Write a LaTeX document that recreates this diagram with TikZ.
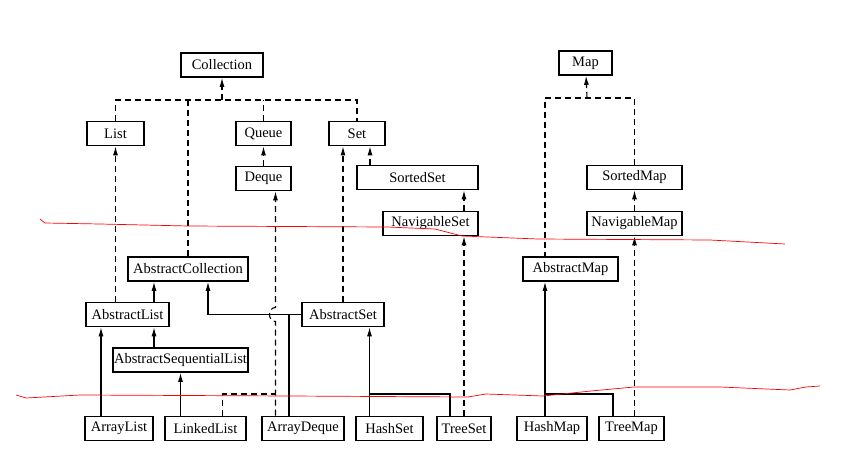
\documentclass[tikz,border=0pt]{standalone}
\usepackage{fontspec}
\setmainfont{Liberation Serif}
\usetikzlibrary{arrows.meta,calc}

\tikzset{
  cls/.style={draw, line width=1.6pt, minimum height=24, inner sep=0pt, fill=white,
    font=\fontsize{14.5}{16}\selectfont},
  dep/.style={line width=1.1pt, dash pattern=on 6pt off 4pt},
  ext/.style={line width=1.1pt},
  tip/.style={-{Latex[length=9pt,width=5pt]}}
}

\begin{document}
\begin{tikzpicture}[x=1pt, y=-1pt]
            \useasboundingbox[fill=white] (0,0) rectangle (844,458);

            % Interfaces
            \node[cls, minimum width=82] (Collection) at (222,65) {Collection};
            \node[cls, minimum width=57] (List) at (115.5,133.5) {List};
            \node[cls, minimum width=55] (Queue) at (263.5,133.5) {Queue};
            \node[cls, minimum width=56] (Set) at (357,133.5) {Set};
            \node[cls, minimum width=55] (Deque) at (263.5,178.5) {Deque};
            \node[cls, minimum width=121] (SortedSet) at (417.5,177.5) {SortedSet};
            \node[cls, minimum width=95] (NavigableSet) at (430.5,223.5) {NavigableSet};
            \node[cls, minimum width=53] (Map) at (585.5,63) {Map};
            \node[cls, minimum width=95] (SortedMap) at (634.5,177.5) {SortedMap};
            \node[cls, minimum width=95] (NavigableMap) at (634.5,223.5) {NavigableMap};

            % Abstract classes
            \node[cls, minimum width=120] (AbstractCollection) at (188,269) {AbstractCollection};
            \node[cls, minimum width=95] (AbstractMap) at (570.5,269) {AbstractMap};
            \node[cls, minimum width=83] (AbstractList) at (127.5,314.5) {AbstractList};
            \node[cls, minimum width=82] (AbstractSet) at (343,314.5) {AbstractSet};
            \node[cls, minimum width=135] (AbstractSequentialList) at (180.5,360) {AbstractSequentialList};

            % Concrete classes
            \node[cls, minimum width=68] (ArrayList) at (119,428.5) {ArrayList};
            \node[cls, minimum width=81] (LinkedList) at (205.5,428.5) {LinkedList};
            \node[cls, minimum width=82] (ArrayDeque) at (303,428.5) {ArrayDeque};
            \node[cls, minimum width=67] (HashSet) at (389.5,428.5) {HashSet};
            \node[cls, minimum width=54] (TreeSet) at (464,428.5) {TreeSet};
            \node[cls, minimum width=70] (HashMap) at (552,428.5) {HashMap};
            \node[cls, minimum width=65] (TreeMap) at (631.5,428.5) {TreeMap};

            % Helper points
            \coordinate (cbus) at (222,100);
            \coordinate (mbus) at (587,98);
            \coordinate (lowbus) at (0,394);
            \coordinate (setin) at ([xshift=13pt]Set.south);
            \coordinate (sortin) at ([xshift=33.5pt]NavigableSet.north);
            \coordinate (amin) at ([xshift=-25.5pt]AbstractMap.north);
            \coordinate (acin) at ([xshift=-34pt]AbstractCollection.south);
            \coordinate (acset) at ([xshift=20pt]AbstractCollection.south);
            \coordinate (dqin) at ([xshift=12pt]Deque.south);
            \coordinate (hop) at (dqin |- AbstractSet.west);
            \coordinate (llup) at ([xshift=17pt]LinkedList.north);
            \coordinate (alup) at ([xshift=-18pt]ArrayList.north);
            \coordinate (adup) at ([xshift=-14pt]ArrayDeque.north);
            \coordinate (hsup) at ([xshift=-20pt]HashSet.north);
            \coordinate (tsup) at ([xshift=-14pt]TreeSet.north);
            \coordinate (tmup) at ([xshift=-18.5pt]TreeMap.north);

            % Collection side
            \draw[dep, tip] (cbus) -- (Collection);
            \draw[dep] (List) |- (cbus) -| (Set);
            \draw[dep] (AbstractCollection) -- (AbstractCollection |- cbus);
            \draw[dep] (Queue) -- (Queue |- cbus);
            \draw[dep, tip] (Deque) -- (Queue);
            \draw[dep, tip] (setin |- SortedSet.north) -- (setin);
            \draw[dep, tip] (sortin) -- (sortin |- SortedSet.south);

            % Map side
            \draw[dep, tip] (mbus) -- (Map);
            \draw[dep] (SortedMap) |- (mbus) -| (amin);
            \draw[dep, tip] (NavigableMap) -- (SortedMap);

            % Abstract classes
            \draw[dep, tip] (List.south |- AbstractList.north) -- (List.south);
            \draw[dep, tip] (AbstractSet) -- (AbstractSet |- Set.south);
            \draw[ext, tip] (acin |- AbstractList.north) -- (acin);
            \draw[ext, tip] (acin |- AbstractSequentialList.north) -- (acin |- AbstractList.south);
            \draw[ext, tip] (AbstractSet) -| (acset);

            % Concrete classes
            \draw[ext, tip] (alup) -- (alup |- AbstractList.south);
            \draw[ext, tip] (AbstractSequentialList.south |- LinkedList.north) -- (AbstractSequentialList.south);
            \draw[dep] (llup) |- (dqin |- lowbus);
            \draw[dep, tip] (dqin |- ArrayDeque.north) -- ($(hop)+(0,7)$)
              .. controls ($(hop)+(-8,7)$) and ($(hop)+(-8,-7)$) .. ($(hop)+(0,-7)$) -- (dqin);
            \draw[ext] (adup) -- (adup |- AbstractSet.west);
            \draw[ext, tip] (hsup) -- (hsup |- AbstractSet.south);
            \draw[ext] (tsup) |- (hsup |- lowbus);
            \draw[dep, tip] (sortin |- TreeSet.north) -- (sortin |- NavigableSet.south);
            \draw[ext, tip] (amin |- HashMap.north) -- (amin |- AbstractMap.south);
            \draw[ext] (tmup) |- (amin |- lowbus);
            \draw[dep, tip] (NavigableMap.south |- TreeMap.north) -- (NavigableMap.south);

            % Red pen marks
            \draw[red, line width=0.7pt, line join=round] (40,219) -- (45,223) -- (100,224) -- (188,226) -- (387,227) -- (435,229) -- (462,236) -- (538,239) -- (710,240) -- (785,244);
            \draw[red, line width=0.7pt, line join=round] (16,395) -- (26,398) -- (80,395) -- (290,396) -- (468,397) -- (486,394) -- (543,396) -- (591,391) -- (634,387) -- (720,387) -- (790,390) -- (806,387) -- (820,386);

        \end{tikzpicture}
\end{document}
